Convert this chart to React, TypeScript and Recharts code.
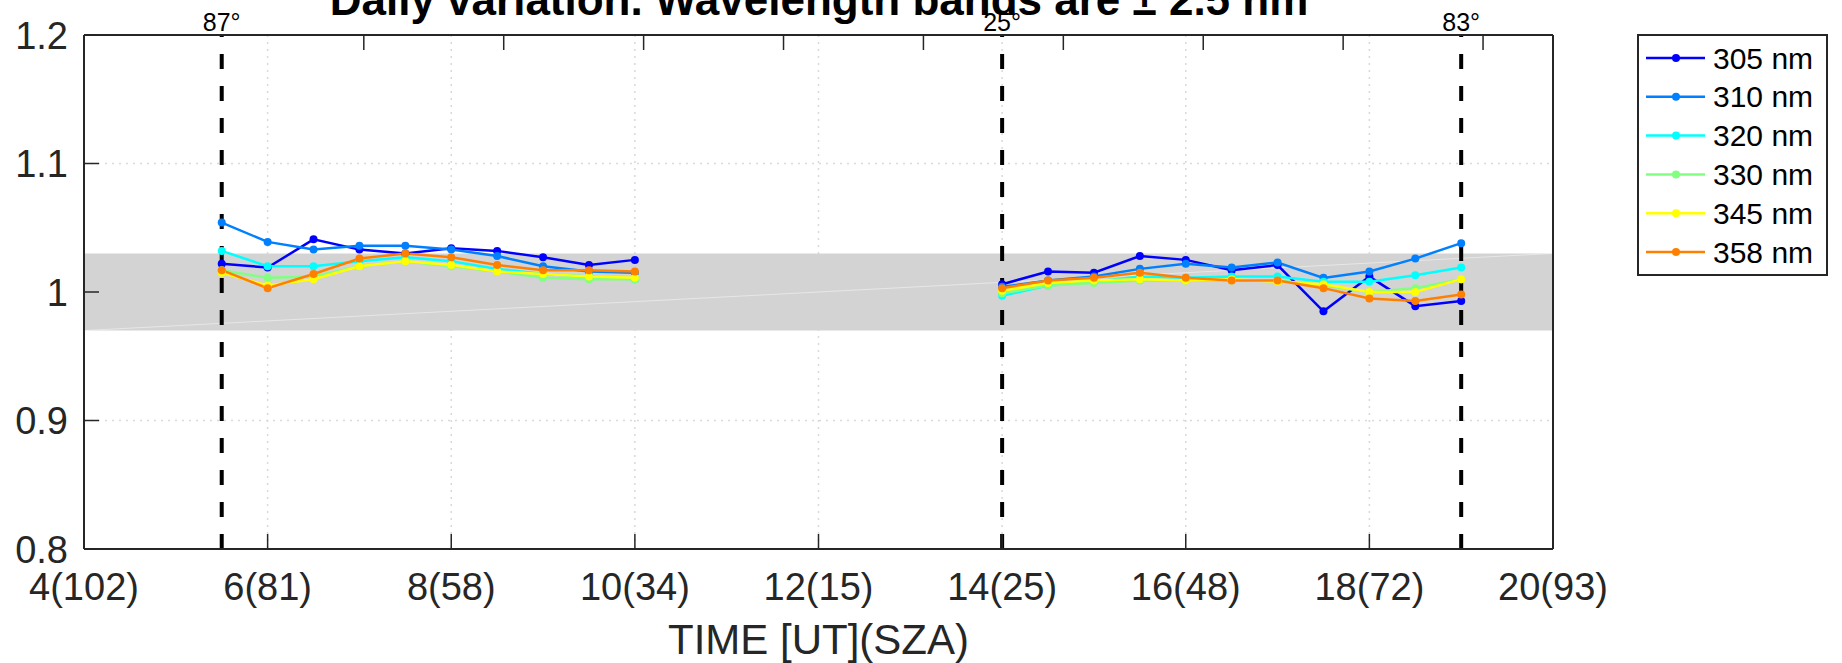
import React from 'react';
import {
  LineChart,
  Line,
  XAxis,
  YAxis,
  CartesianGrid,
  ReferenceArea,
  ReferenceLine,
} from 'recharts';

// morning and afternoon measurement times (UT hours)
const TIMES_AM = [5.5, 6, 6.5, 7, 7.5, 8, 8.5, 9, 9.5, 10];
const TIMES_PM = [14, 14.5, 15, 15.5, 16, 16.5, 17, 17.5, 18, 18.5, 19];
const GAP_TIME = 12;

// ratio values per wavelength band
const W305_AM = [1.022, 1.019, 1.041, 1.033, 1.03, 1.034, 1.032, 1.027, 1.021, 1.025];
const W305_PM = [1.006, 1.016, 1.015, 1.028, 1.025, 1.017, 1.021, 0.985, 1.012, 0.989, 0.993];
const W310_AM = [1.054, 1.039, 1.033, 1.036, 1.036, 1.033, 1.028, 1.02, 1.016, 1.015];
const W310_PM = [1.004, 1.009, 1.012, 1.018, 1.022, 1.019, 1.023, 1.011, 1.016, 1.026, 1.038];
const W320_AM = [1.032, 1.02, 1.02, 1.024, 1.027, 1.024, 1.018, 1.014, 1.012, 1.01];
const W320_PM = [0.997, 1.005, 1.008, 1.012, 1.011, 1.012, 1.012, 1.008, 1.008, 1.013, 1.019];
const W330_AM = [1.017, 1.011, 1.012, 1.02, 1.024, 1.02, 1.016, 1.011, 1.01, 1.01];
const W330_PM = [0.999, 1.005, 1.007, 1.009, 1.009, 1.009, 1.009, 1.005, 1.0, 1.003, 1.01];
const W345_AM = [1.015, 1.005, 1.01, 1.02, 1.024, 1.021, 1.016, 1.014, 1.012, 1.011];
const W345_PM = [1.001, 1.007, 1.009, 1.01, 1.009, 1.01, 1.008, 1.006, 1.0, 1.0, 1.01];
const W358_AM = [1.017, 1.003, 1.014, 1.026, 1.03, 1.027, 1.021, 1.017, 1.017, 1.016];
const W358_PM = [1.003, 1.009, 1.011, 1.015, 1.011, 1.009, 1.009, 1.003, 0.995, 0.993, 0.998];

const SERIES = [
  { key: 'w305', name: '305 nm', color: '#0000ff', am: W305_AM, pm: W305_PM },
  { key: 'w310', name: '310 nm', color: '#0080ff', am: W310_AM, pm: W310_PM },
  { key: 'w320', name: '320 nm', color: '#00ffff', am: W320_AM, pm: W320_PM },
  { key: 'w330', name: '330 nm', color: '#80ff80', am: W330_AM, pm: W330_PM },
  { key: 'w345', name: '345 nm', color: '#ffff00', am: W345_AM, pm: W345_PM },
  { key: 'w358', name: '358 nm', color: '#ff8000', am: W358_AM, pm: W358_PM },
];

// axis ticks
const X_TICKS = [4, 6, 8, 10, 12, 14, 16, 18, 20];
const SZA_AT_TICK = [102, 81, 58, 34, 15, 25, 48, 72, 93];
const Y_TICKS = [0.8, 0.9, 1, 1.1, 1.2];

// solar zenith angle markers
const SZA_LINES = [
  { t: 5.5, label: '87°' },
  { t: 14, label: '25°' },
  { t: 19, label: '83°' },
];

// tolerance band
const BAND_LOW = 0.97;
const BAND_HIGH = 1.03;

const W = 1842;
const H = 663;
const PLOT_LEFT = 84;
const PLOT_RIGHT = 1553;
const PLOT_TOP = 35;
const PLOT_BOTTOM = 549;
const TICK_LEN = 15;
const AXIS_COLOR = '#262626';
const FONT = '"Liberation Sans", Arial, Helvetica, sans-serif';

const buildRows = () => {
  const rows: any[] = [];
  TIMES_AM.forEach((t, i) => {
    const row: any = { t };
    SERIES.forEach(s => (row[s.key] = s.am[i]));
    rows.push(row);
  });
  rows.push({ t: GAP_TIME }); // break the lines between morning and afternoon
  TIMES_PM.forEach((t, i) => {
    const row: any = { t };
    SERIES.forEach(s => (row[s.key] = s.pm[i]));
    rows.push(row);
  });
  return rows;
};

const BottomTick = ({ x, payload }: any) => {
  const idx = X_TICKS.indexOf(payload.value);
  return (
    <g>
      <line x1={x} x2={x} y1={PLOT_BOTTOM} y2={PLOT_BOTTOM - TICK_LEN} stroke={AXIS_COLOR} strokeWidth={1.5} />
      <text x={x} y={PLOT_BOTTOM + 51} textAnchor="middle" fontSize={38} fill={AXIS_COLOR} fontFamily={FONT}>
        {`${payload.value}(${SZA_AT_TICK[idx]})`}
      </text>
    </g>
  );
};

const TopTick = ({ x }: any) => (
  <line x1={x} x2={x} y1={PLOT_TOP} y2={PLOT_TOP + TICK_LEN} stroke={AXIS_COLOR} strokeWidth={1.5} />
);

const LeftTick = ({ y, payload }: any) => (
  <g>
    <line x1={PLOT_LEFT} x2={PLOT_LEFT + TICK_LEN} y1={y} y2={y} stroke={AXIS_COLOR} strokeWidth={1.5} />
    <text x={68} y={y + 13.5} textAnchor="end" fontSize={38} fill={AXIS_COLOR} fontFamily={FONT}>
      {String(payload.value)}
    </text>
  </g>
);

const RightTick = ({ y }: any) => (
  <line x1={PLOT_RIGHT} x2={PLOT_RIGHT - TICK_LEN} y1={y} y2={y} stroke={AXIS_COLOR} strokeWidth={1.5} />
);

const LegendBox = () => (
  <div
    style={{
      position: 'absolute',
      left: 1637,
      top: 34,
      width: 191,
      height: 242,
      boxSizing: 'border-box',
      border: '2px solid #262626',
      background: '#fff',
    }}
  >
    <svg width={187} height={238}>
      {SERIES.map((s, i) => {
        const cy = 22 + i * 38.8;
        return (
          <g key={s.key}>
            <line x1={7} x2={66} y1={cy} y2={cy} stroke={s.color} strokeWidth={2.5} />
            <circle cx={37} cy={cy} r={4} fill={s.color} />
            <text x={74} y={cy + 10.5} fontSize={30} fill="#000" fontFamily={FONT}>
              {s.name}
            </text>
          </g>
        );
      })}
    </svg>
  </div>
);

export default function App() {
  const rows = buildRows();

  return (
    <div style={{ position: 'absolute', left: 0, top: 0, width: W, height: H, background: '#fff', fontFamily: FONT }}>
      <LineChart width={W} height={H} data={rows} margin={{ top: 0, right: 0, bottom: 0, left: 0 }}>
        <ReferenceArea
          x1={4}
          x2={20}
          y1={BAND_LOW}
          y2={BAND_HIGH}
          fill="#d3d3d3"
          fillOpacity={1}
          stroke="none"
        />
        <ReferenceLine
          segment={[{ x: 4, y: BAND_LOW }, { x: 20, y: BAND_HIGH }]}
          stroke="#ffffff"
          strokeOpacity={0.45}
          strokeWidth={1}
        />
        <CartesianGrid stroke="#d9d9d9" strokeDasharray="2 5" strokeWidth={1.5} />
        <XAxis
          dataKey="t"
          type="number"
          domain={[4, 20]}
          ticks={X_TICKS}
          height={H - PLOT_BOTTOM}
          axisLine={{ stroke: AXIS_COLOR, strokeWidth: 2 }}
          tickLine={false}
          tick={<BottomTick />}
          interval={0}
          label={{ value: 'TIME [UT](SZA)', position: 'insideBottom', offset: 9, fontSize: 42, fill: AXIS_COLOR, fontFamily: FONT }}
        />
        <XAxis
          xAxisId="top"
          orientation="top"
          type="number"
          domain={[4, 20]}
          ticks={X_TICKS}
          height={PLOT_TOP}
          axisLine={{ stroke: AXIS_COLOR, strokeWidth: 2 }}
          tickLine={false}
          tick={<TopTick />}
          interval={0}
        />
        <YAxis
          type="number"
          domain={[0.8, 1.2]}
          ticks={Y_TICKS}
          width={PLOT_LEFT}
          axisLine={{ stroke: AXIS_COLOR, strokeWidth: 2 }}
          tickLine={false}
          tick={<LeftTick />}
          interval={0}
        />
        <YAxis
          yAxisId="right"
          orientation="right"
          type="number"
          domain={[0.8, 1.2]}
          ticks={Y_TICKS}
          width={W - PLOT_RIGHT}
          axisLine={{ stroke: AXIS_COLOR, strokeWidth: 2 }}
          tickLine={false}
          tick={<RightTick />}
          interval={0}
        />
        {SZA_LINES.map(l => (
          <ReferenceLine
            key={l.t}
            x={l.t}
            stroke="#000"
            strokeWidth={4}
            strokeDasharray="15 17"
            label={{ value: l.label, position: 'top', offset: 4, fontSize: 25, fill: '#000', fontFamily: FONT }}
          />
        ))}
        {SERIES.map(s => (
          <Line
            key={s.key}
            dataKey={s.key}
            name={s.name}
            stroke={s.color}
            strokeWidth={2.5}
            dot={{ r: 4, fill: s.color, stroke: s.color, strokeWidth: 0 }}
            activeDot={false}
            isAnimationActive={false}
          />
        ))}
      </LineChart>
      <svg width={W} height={H} style={{ position: 'absolute', left: 0, top: 0, pointerEvents: 'none' }}>
        <text x={819} y={15} textAnchor="middle" fontSize={44} fontWeight="bold" fill="#000" fontFamily={FONT}>
          Daily variation. Wavelength bands are ± 2.5 nm
        </text>
      </svg>
      <LegendBox />
    </div>
  );
}
